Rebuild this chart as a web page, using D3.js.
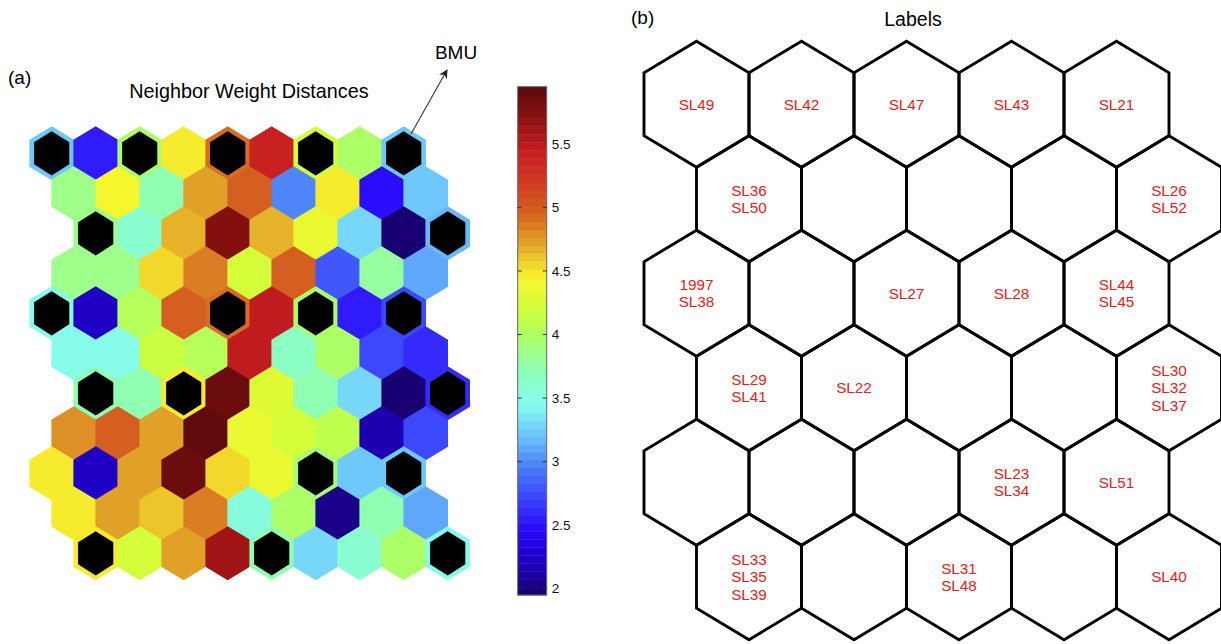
<!DOCTYPE html>
<html>
<head>
<meta charset="utf-8">
<script src="https://cdn.jsdelivr.net/npm/d3@7"></script>
<style>
  body { margin: 0; background: white; }
  svg { display: block; font-family: "Liberation Sans", Arial, sans-serif; }
</style>
</head>
<body>
<div id="chart"></div>
<script>
// U-matrix distances, 11 rows x 9 cols
var umatRows = [
  [3.25, 2.55, 3.95, 4.50, 4.90, 5.42, 4.25, 4.00, 3.25],
  [3.85, 4.40, 3.70, 4.70, 4.95, 2.95, 4.50, 2.45, 3.20],
  [3.85, 3.60, 4.65, 5.70, 4.65, 4.35, 3.30, 2.00, 3.15],
  [3.85, 3.85, 4.55, 4.85, 4.25, 4.95, 2.80, 3.80, 3.10],
  [3.50, 2.25, 4.05, 5.00, 4.90, 5.45, 3.95, 2.55, 2.70],
  [3.50, 3.50, 4.15, 4.05, 5.45, 3.65, 3.95, 2.75, 2.60],
  [3.70, 3.70, 4.45, 5.85, 4.30, 3.70, 3.30, 2.00, 2.60],
  [4.80, 4.95, 4.70, 5.93, 4.35, 4.20, 4.10, 2.15, 2.75],
  [4.45, 2.20, 4.70, 5.85, 4.55, 4.35, 3.90, 3.20, 3.20],
  [4.45, 4.70, 4.60, 4.85, 3.55, 4.00, 2.05, 3.75, 3.10],
  [4.45, 4.25, 4.70, 5.60, 3.75, 3.30, 3.60, 3.95, 3.50]
];

// labels per SOM unit, 6 rows x 5 cols
var labelRows = [
  [["SL49"], ["SL42"], ["SL47"], ["SL43"], ["SL21"]],
  [["SL36", "SL50"], [], [], [], ["SL26", "SL52"]],
  [["1997", "SL38"], [], ["SL27"], ["SL28"], ["SL44", "SL45"]],
  [["SL29", "SL41"], ["SL22"], [], [], ["SL30", "SL32", "SL37"]],
  [[], [], [], ["SL23", "SL34"], ["SL51"]],
  [["SL33", "SL35", "SL39"], [], ["SL31", "SL48"], [], ["SL40"]]
];

var colorTicks = [2, 2.5, 3, 3.5, 4, 4.5, 5, 5.5];
var colorDomain = [1.95, 5.95];

// colormap stops as seen on the colorbar (jet-like)
var stopValues = [1.95, 2.2, 2.45, 2.7, 2.95, 3.2, 3.45, 3.7, 3.95, 4.2, 4.45, 4.7, 4.95, 5.2, 5.45, 5.7, 5.95];
var stopColors = ["#190068", "#1c00bc", "#2a06fb", "#3a40fb", "#4a7cf7", "#6cc0fd", "#86fcf2", "#8cffbc",
                  "#a8ff6e", "#d0ff3c", "#f9f52c", "#e3a828", "#d66420", "#cf3a20", "#c81c20", "#8a1010", "#5a0a0a"];

var width = 1221, height = 644;

var svg = d3.select("#chart")
  .append("svg")
  .attr("width", width)
  .attr("height", height);

var cmap = d3.scaleLinear().domain(stopValues).range(stopColors);
var nLevels = 64;
var levelOf = d3.scaleQuantize().domain(colorDomain).range(d3.range(nLevels));
var levelColor = function(k) {
  return cmap(colorDomain[0] + (k + 0.5) * (colorDomain[1] - colorDomain[0]) / nLevels);
};

var hexPath = function(cx, cy, rx, ry) {
  var pts = [[0, -ry], [rx, -ry / 2], [rx, ry / 2], [0, ry], [-rx, ry / 2], [-rx, -ry / 2]];
  return "M" + pts.map(function(p) { return (cx + p[0]) + "," + (cy + p[1]); }).join("L") + "Z";
};

// ---------- (a) U-matrix ----------
var ux = d3.scaleLinear().domain([0, 1]).range([51.7, 95.7]);
var uy = d3.scaleLinear().domain([0, 10]).range([153.3, 553.3]);
var uShift = function(r) { return r % 2 == 1 ? 0.5 : (r % 4 == 2 ? 1 : 0); };

var cells = [];
umatRows.forEach(function(row, r) {
  row.forEach(function(v, c) {
    var hit = (r % 2 == 0 && c % 2 == 0) && labelRows[r / 2][c / 2].length > 0;
    cells.push({ r: r, c: c, v: v, hit: hit });
  });
});

var uHalfW = (ux(1) - ux(0)) / 2;
var uRy = (uy(1) - uy(0)) / 1.5;

var ucell = svg.append("g").selectAll("g")
  .data(cells)
  .enter()
  .append("g");

ucell.append("path")
  .attr("d", function(d) { return hexPath(ux(d.c + uShift(d.r)), uy(d.r), uHalfW + 0.3, uRy + 0.3); })
  .attr("fill", function(d) { return levelColor(levelOf(d.v)); });

ucell.filter(function(d) { return d.hit; })
  .append("path")
  .attr("d", function(d) { return hexPath(ux(d.c + uShift(d.r)), uy(d.r), uHalfW * 0.8, uRy * 0.83); })
  .attr("fill", "black");

svg.append("text")
  .attr("x", 8).attr("y", 84)
  .attr("font-size", "19px")
  .text("(a)");

svg.append("text")
  .attr("x", 249).attr("y", 98)
  .attr("font-size", "19.8px")
  .attr("text-anchor", "middle")
  .text("Neighbor Weight Distances");

// BMU annotation
svg.append("defs").append("marker")
  .attr("id", "arrow")
  .attr("viewBox", "0 0 10 10")
  .attr("refX", 9).attr("refY", 5)
  .attr("markerWidth", 9).attr("markerHeight", 9)
  .attr("markerUnits", "userSpaceOnUse")
  .attr("orient", "auto")
  .append("path")
  .attr("d", "M0,0L10,5L0,10L3,5Z")
  .attr("fill", "#222");

svg.append("line")
  .attr("x1", 411).attr("y1", 134)
  .attr("x2", 447).attr("y2", 70)
  .attr("stroke", "#333")
  .attr("stroke-width", 1.1)
  .attr("marker-end", "url(#arrow)");

svg.append("text")
  .attr("x", 456).attr("y", 59)
  .attr("font-size", "19px")
  .attr("text-anchor", "middle")
  .text("BMU");

// colorbar
var cbX = 517.7, cbW = 29;
var cy = d3.scaleLinear().domain(colorDomain).range([595, 86.7]);
var step = (colorDomain[1] - colorDomain[0]) / nLevels;

svg.append("g").selectAll("rect")
  .data(d3.range(nLevels))
  .enter()
  .append("rect")
  .attr("x", cbX)
  .attr("y", function(k) { return cy(colorDomain[0] + (k + 1) * step); })
  .attr("width", cbW)
  .attr("height", function(k) { return cy(colorDomain[0] + k * step) - cy(colorDomain[0] + (k + 1) * step) + 0.4; })
  .attr("fill", function(k) { return levelColor(k); });

svg.append("rect")
  .attr("x", cbX).attr("y", cy(colorDomain[1]))
  .attr("width", cbW).attr("height", cy(colorDomain[0]) - cy(colorDomain[1]))
  .attr("fill", "none")
  .attr("stroke", "#666")
  .attr("stroke-width", 1);

var cbAxis = d3.axisRight(cy)
  .tickValues(colorTicks)
  .tickSize(0)
  .tickPadding(5)
  .tickFormat(d3.format("~g"));

var cbg = svg.append("g")
  .attr("transform", "translate(" + (cbX + cbW) + ",0)")
  .call(cbAxis);
cbg.select(".domain").remove();
cbg.selectAll("text")
  .attr("font-family", "Liberation Sans, Arial, sans-serif")
  .attr("font-size", "13.5px")
  .attr("fill", "#111");

// small inward tick marks on both edges
var tk = svg.append("g").selectAll("g")
  .data(colorTicks)
  .enter()
  .append("g");
tk.append("line")
  .attr("x1", cbX).attr("x2", cbX + 4)
  .attr("y1", function(d) { return cy(d); }).attr("y2", function(d) { return cy(d); })
  .attr("stroke", "#333").attr("stroke-width", 1);
tk.append("line")
  .attr("x1", cbX + cbW - 4).attr("x2", cbX + cbW)
  .attr("y1", function(d) { return cy(d); }).attr("y2", function(d) { return cy(d); })
  .attr("stroke", "#333").attr("stroke-width", 1);

// ---------- (b) Labels ----------
var nx = d3.scaleLinear().domain([0, 1]).range([696.5, 801.5]);
var ny = d3.scaleLinear().domain([0, 5]).range([104.2, 576.7]);
var nHalfW = (nx(1) - nx(0)) / 2;
var nRy = (ny(1) - ny(0)) / 1.5;

var units = [];
labelRows.forEach(function(row, j) {
  row.forEach(function(labs, i) {
    units.push({ j: j, i: i, x: nx(i + (j % 2) * 0.5), y: ny(j), labels: labs });
  });
});

var unit = svg.append("g").selectAll("g")
  .data(units)
  .enter()
  .append("g");

unit.append("path")
  .attr("d", function(d) { return hexPath(d.x, d.y, nHalfW, nRy); })
  .attr("fill", "none")
  .attr("stroke", "black")
  .attr("stroke-width", 2.9)
  .attr("stroke-linejoin", "miter");

var lineH = 17.3;
unit.append("text")
  .attr("text-anchor", "middle")
  .attr("font-size", "15.3px")
  .attr("fill", "#e62020")
  .selectAll("tspan")
  .data(function(d) {
    return d.labels.map(function(t, k) {
      return { t: t, x: d.x, y: d.y + (k - (d.labels.length - 1) / 2) * lineH + 5.5 };
    });
  })
  .enter()
  .append("tspan")
  .attr("x", function(d) { return d.x; })
  .attr("y", function(d) { return d.y; })
  .text(function(d) { return d.t; });

svg.append("text")
  .attr("x", 631).attr("y", 24)
  .attr("font-size", "19px")
  .text("(b)");

svg.append("text")
  .attr("x", 913).attr("y", 26)
  .attr("font-size", "19.5px")
  .attr("text-anchor", "middle")
  .text("Labels");
</script>
</body>
</html>
